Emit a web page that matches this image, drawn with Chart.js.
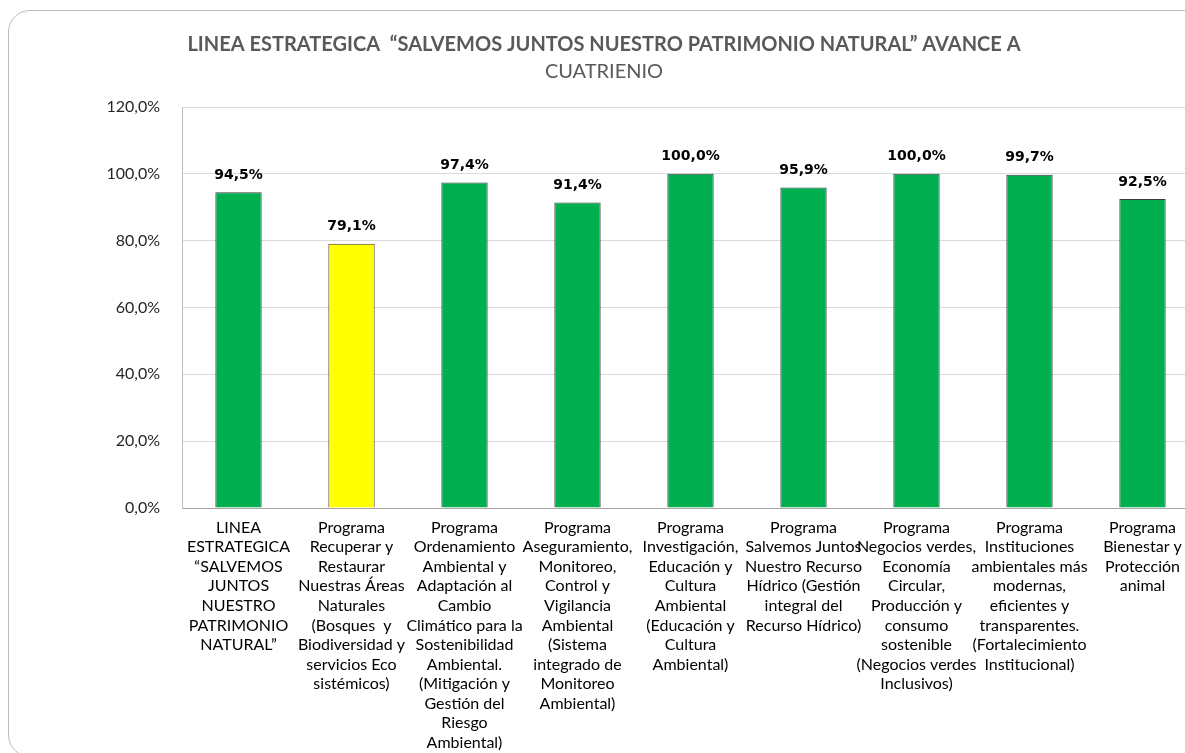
<!DOCTYPE html>
<html>
<head>
<meta charset="utf-8">
<script src="https://cdn.jsdelivr.net/npm/chart.js@4/dist/chart.umd.min.js"></script>
<style>
  html, body { margin: 0; padding: 0; background: #fff; overflow: hidden; }
  #frame {
    position: absolute; left: 8px; top: 10px;
    width: 1195px; height: 745px;
    border: 1px solid #bcbcbc; border-radius: 22px;
    overflow: hidden;
  }
  canvas { display: block; }
</style>
</head>
<body>
<div id="frame"><canvas id="chart" width="1195" height="745"></canvas></div>
<script>
const categories = [
    ['LINEA', 'ESTRATEGICA', '\u201cSALVEMOS', 'JUNTOS', 'NUESTRO', 'PATRIMONIO', 'NATURAL\u201d'],
    ['Programa', 'Recuperar y', 'Restaurar', 'Nuestras Áreas', 'Naturales', '(Bosques  y', 'Biodiversidad y', 'servicios Eco', 'sistémicos)'],
    ['Programa', 'Ordenamiento', 'Ambiental y', 'Adaptación al', 'Cambio', 'Climático para la', 'Sostenibilidad', 'Ambiental.', '(Mitigación y', 'Gestión del', 'Riesgo', 'Ambiental)'],
    ['Programa', 'Aseguramiento,', 'Monitoreo,', 'Control y', 'Vigilancia', 'Ambiental', '(Sistema', 'integrado de', 'Monitoreo', 'Ambiental)'],
    ['Programa', 'Investigación,', 'Educación y', 'Cultura', 'Ambiental', '(Educación y', 'Cultura', 'Ambiental)'],
    ['Programa', 'Salvemos Juntos', 'Nuestro Recurso', 'Hídrico (Gestión', 'integral del', 'Recurso Hídrico)'],
    ['Programa', 'Negocios verdes,', 'Economía', 'Circular,', 'Producción y', 'consumo', 'sostenible', '(Negocios verdes', 'Inclusivos)'],
    ['Programa', 'Instituciones', 'ambientales más', 'modernas,', 'eficientes y', 'transparentes.', '(Fortalecimiento', 'Institucional)'],
    ['Programa', 'Bienestar y', 'Protección', 'animal']
];
const avance = [94.5, 79.1, 97.4, 91.4, 100.0, 95.9, 100.0, 99.7, 92.5];
const barColors = ['#00b050', '#ffff00', '#00b050', '#00b050', '#00b050', '#00b050', '#00b050', '#00b050', '#00b050'];
const yTicks = [0, 20, 40, 60, 80, 100, 120];

const titleText = 'LINEA ESTRATEGICA  \u201cSALVEMOS JUNTOS NUESTRO PATRIMONIO NATURAL\u201d AVANCE A';
const subtitleText = 'CUATRIENIO';

const pct = v => v.toFixed(1).replace('.', ',') + '%';

// etiquetas encima de las barras
const barLabels = {
    id: 'barLabels',
    afterDatasetsDraw(chart) {
        const ctx = chart.ctx;
        const meta = chart.getDatasetMeta(0);
        ctx.save();
        ctx.font = 'bold 14px "DejaVu Sans"';
        ctx.fillStyle = '#000';
        ctx.textAlign = 'center';
        ctx.textBaseline = 'middle';
        meta.data.forEach((bar, i) => {
            ctx.fillText(pct(avance[i]), bar.x, bar.y - 17);
        });
        ctx.restore();
    }
};

const ctx = document.getElementById('chart').getContext('2d');

new Chart(ctx, {
    type: 'bar',
    data: {
        labels: categories,
        datasets: [{
            data: avance,
            backgroundColor: barColors,
            borderColor: '#3c3c3c',
            borderWidth: 1,
            barPercentage: 0.41,
            categoryPercentage: 1
        }]
    },
    options: {
        responsive: false,
        animation: false,
        layout: { padding: { left: 0, right: 5, top: 0, bottom: 0 } },
        plugins: {
            legend: { display: false },
            tooltip: { enabled: false },
            title: {
                display: true,
                text: titleText,
                color: '#595959',
                font: { family: 'Lato', size: 20, weight: 'bold', lineHeight: 1.2 },
                padding: { top: 22, bottom: 0 }
            },
            subtitle: {
                display: true,
                text: subtitleText,
                color: '#595959',
                font: { family: 'Lato', size: 20, weight: 'normal', lineHeight: 1.2 },
                padding: { top: 3, bottom: 23 }
            }
        },
        scales: {
            x: {
                grid: { display: false, drawTicks: false },
                border: { display: true, color: '#a6a6a6' },
                ticks: {
                    color: '#000',
                    autoSkip: false,
                    maxRotation: 0,
                    minRotation: 0,
                    padding: 10,
                    font: { family: 'Lato', size: 16, lineHeight: 1.22 }
                },
                afterFit(scale) { scale.height = 248; }
            },
            y: {
                min: 0,
                max: 120,
                afterBuildTicks(scale) { scale.ticks = yTicks.map(v => ({ value: v })); },
                grid: { color: '#d9d9d9', drawTicks: false },
                border: { display: true, color: '#bfbfbf' },
                ticks: {
                    color: '#262626',
                    padding: 22,
                    font: { family: 'Lato', size: 16 },
                    callback: v => pct(v)
                },
                afterFit(scale) { scale.width = 173; }
            }
        }
    },
    plugins: [barLabels]
});
</script>
</body>
</html>
